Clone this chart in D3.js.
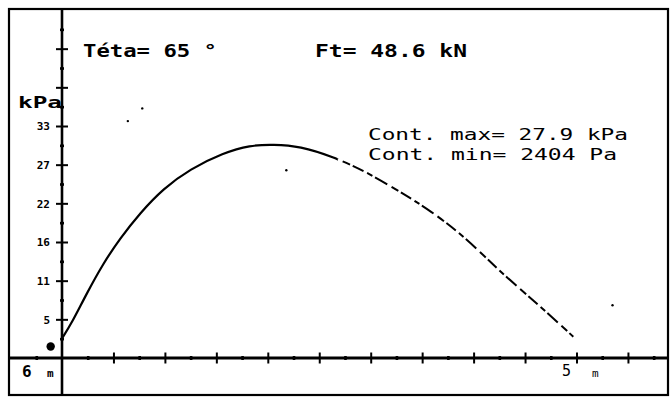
<!DOCTYPE html>
<html><head><meta charset="utf-8">
<script src="https://cdn.jsdelivr.net/npm/d3@7"></script>
<style>html,body{margin:0;padding:0;background:#fff;}svg{display:block;}</style>
</head><body>
<svg id="c" width="671" height="398"></svg>
<script>
// ---- data ----
const distX = [0, 0.094, 0.24, 0.401, 0.564, 0.758, 0.985, 1.244, 1.568, 1.827, 2.053, 2.312, 2.636, 2.961, 3.285, 3.576, 3.933, 4.257, 4.58, 4.969];
const pressure = [2.8, 4.93, 9.19, 13.46, 17.01, 20.62, 24.11, 26.88, 29.17, 30.27, 30.37, 30.13, 28.61, 26.47, 23.63, 21.03, 17.01, 12.26, 8.24, 3.03];
const dashFrom = 2.68;
const yMajor = [5.5, 11, 16.5, 22, 27.5, 33, 38.5, 44];
const yMinor = [2.75, 8.25, 13.75, 19.25, 24.75, 30.25, 35.75, 41.25, 46.75];
const yTickLabels = ["5", "11", "16", "22", "27", "33"];
const xMajor = [0.5, 1, 1.5, 2, 2.5, 3, 3.5, 4, 4.5, 5, 5.5];
const xMinor = [-0.25, 0.25, 0.75, 1.25, 1.75, 2.25, 2.75, 3.25, 3.75, 4.25, 4.75, 5.25, 5.75];
const originDot = [{x: -0.11, y: 1.63}];
const specks = [[0.78, 35.5], [0.64, 33.7], [2.18, 26.7], [5.35, 7.5]];
const titleLeft = "Téta= 65 °";
const titleRight = "Ft= 48.6 kN";
const contMax = "Cont. max= 27.9 kPa";
const contMin = "Cont. min= 2404 Pa";
const yUnit = "kPa";

// ---- drawing ----
const svg = d3.select("#c");
const x = d3.scaleLinear().domain([0, 5]).range([62, 576.5]);
const y = d3.scaleLinear().domain([0, 33]).range([358, 126]);
const mono = "'DejaVu Sans Mono', 'Liberation Mono', monospace";
const ink = "#000";

// frame
svg.append("rect").attr("x", 9).attr("y", 9).attr("width", 659).attr("height", 386)
  .attr("fill", "none").attr("stroke", ink).attr("stroke-width", 2.2);

// axes lines
svg.append("line").attr("x1", 9).attr("x2", 668).attr("y1", y(0)).attr("y2", y(0))
  .attr("stroke", ink).attr("stroke-width", 3);
svg.append("line").attr("x1", x(0)).attr("x2", x(0)).attr("y1", 9).attr("y2", 395)
  .attr("stroke", ink).attr("stroke-width", 2.6);

// y axis major ticks (crosses)
const yAx = d3.axisLeft(y).tickValues(yMajor).tickSize(12).tickFormat("");
const gy = svg.append("g").attr("transform", `translate(${x(0) + 6},0)`).call(yAx);
gy.select(".domain").remove();
gy.selectAll(".tick line").attr("stroke", ink).attr("stroke-width", 2);
// y minor
const yAxMin = d3.axisLeft(y).tickValues(yMinor).tickSize(4).tickFormat("");
const gym = svg.append("g").attr("transform", `translate(${x(0) + 2},0)`).call(yAxMin);
gym.select(".domain").remove();
gym.selectAll(".tick line").attr("stroke", ink).attr("stroke-width", 2.6);
// y labels
const yAxLab = d3.axisLeft(y).tickValues(yMajor.slice(0, yTickLabels.length)).tickSize(0).tickPadding(0)
  .tickFormat((d, i) => yTickLabels[i]);
const gyl = svg.append("g").attr("transform", `translate(50,0)`).call(yAxLab);
gyl.select(".domain").remove();
gyl.selectAll(".tick text").attr("font-family", mono).attr("font-weight", "bold")
  .attr("font-size", 11).attr("fill", ink).attr("dy", "0.35em");

// x axis major
const xAx = d3.axisBottom(x).tickValues(xMajor).tickSize(11).tickFormat("");
const gx = svg.append("g").attr("transform", `translate(0,${y(0) - 5.5})`).call(xAx);
gx.select(".domain").remove();
gx.selectAll(".tick line").attr("stroke", ink).attr("stroke-width", 2);
const xAxMin = d3.axisBottom(x).tickValues(xMinor).tickSize(4).tickFormat("");
const gxm = svg.append("g").attr("transform", `translate(0,${y(0) - 2})`).call(xAxMin);
gxm.select(".domain").remove();
gxm.selectAll(".tick line").attr("stroke", ink).attr("stroke-width", 2.6);

// curve (one path, solid part and dashed part via clip paths)
const pts = distX.map((d, i) => [d, pressure[i]]);
const line = d3.line().x(d => x(d[0])).y(d => y(d[1])).curve(d3.curveBasis);
const defs = svg.append("defs");
defs.append("clipPath").attr("id", "clipSolid").append("rect")
  .attr("x", 0).attr("y", 0).attr("width", x(dashFrom)).attr("height", 398);
defs.append("clipPath").attr("id", "clipDash").append("rect")
  .attr("x", x(dashFrom)).attr("y", 0).attr("width", 671 - x(dashFrom)).attr("height", 398);
svg.append("path").datum(pts).attr("d", line).attr("fill", "none")
  .attr("clip-path", "url(#clipSolid)")
  .attr("stroke", ink).attr("stroke-width", 2.2);
svg.append("path").datum(pts).attr("d", line).attr("fill", "none")
  .attr("clip-path", "url(#clipDash)")
  .attr("stroke", ink).attr("stroke-width", 2)
  .attr("stroke-dasharray", "12,4,6,3,14,5,8,3");

// origin dot
svg.selectAll(".odot").data(originDot).join("circle")
  .attr("cx", d => x(d.x)).attr("cy", d => y(d.y)).attr("r", 4.2).attr("fill", ink);
// specks
svg.selectAll(".sp").data(specks).join("circle")
  .attr("cx", d => x(d[0])).attr("cy", d => y(d[1])).attr("r", 1.2).attr("fill", ink);

// texts
function txt(s, xx, yy, size, weight, len) {
  const t = svg.append("text").attr("x", xx).attr("y", yy).attr("font-family", mono)
    .attr("font-size", size).attr("font-weight", weight).attr("fill", ink).text(s);
  if (len) t.attr("textLength", len).attr("lengthAdjust", "spacingAndGlyphs");
  return t;
}
txt(titleLeft, 83, 57, 17, "bold", 134);
txt(titleRight, 315, 57, 17, "bold", 152);
txt(yUnit, 18, 108, 15, "bold", 44);
txt(contMax, 368, 140, 16, "normal", 260);
txt(contMin, 368, 160, 16, "normal", 249);
txt("6", 22, 377, 16, "bold");
txt("m", 47, 377, 11, "bold");
txt("5", 562, 376, 15, "normal");
txt("m", 592, 377, 11, "normal");
</script>
</body></html>
